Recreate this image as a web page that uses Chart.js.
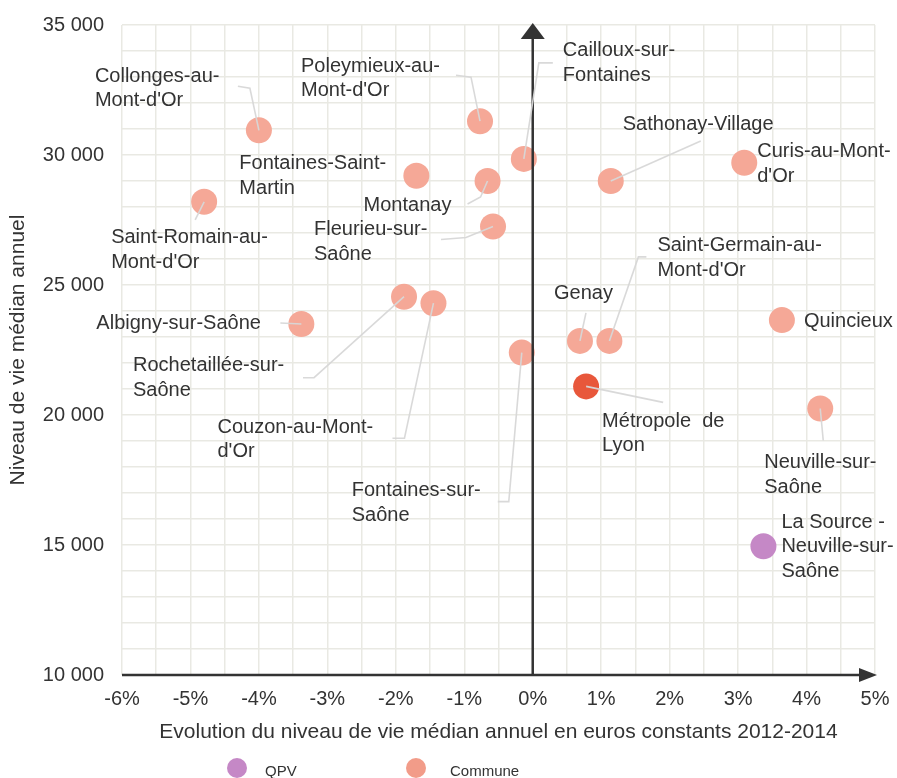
<!DOCTYPE html>
<html><head><meta charset="utf-8">
<script src="https://cdn.jsdelivr.net/npm/chart.js@4/dist/chart.umd.min.js"></script>
<style>html,body{margin:0;padding:0;background:#fff}</style>
</head><body>
<canvas id="c" width="897" height="778"></canvas>
<script>
// ---- Data ----
const communes = [
  "Collonges-au-Mont-d'Or", "Saint-Romain-au-Mont-d'Or", "Fontaines-Saint-Martin",
  "Poleymieux-au-Mont-d'Or", "Cailloux-sur-Fontaines", "Montanay", "Fleurieu-sur-Saône",
  "Sathonay-Village", "Curis-au-Mont-d'Or", "Albigny-sur-Saône", "Rochetaillée-sur-Saône",
  "Couzon-au-Mont-d'Or", "Fontaines-sur-Saône", "Genay", "Saint-Germain-au-Mont-d'Or",
  "Quincieux", "Neuville-sur-Saône"
];
const communeEvolution = [-4.0, -4.8, -1.7, -0.77, -0.13, -0.66, -0.58, 1.14, 3.09, -3.38, -1.88, -1.45, -0.16, 0.69, 1.12, 3.64, 4.2];
const communeNiveau = [30950, 28200, 29200, 31300, 29850, 29000, 27250, 29000, 29700, 23500, 24550, 24300, 22400, 22850, 22850, 23650, 20250];

const metropole = ["Métropole de Lyon"];
const metropoleEvolution = [0.78];
const metropoleNiveau = [21100];

const qpv = ["La Source - Neuville-sur-Saône"];
const qpvEvolution = [3.37];
const qpvNiveau = [14950];

const xTickValues = [-6, -5, -4, -3, -2, -1, 0, 1, 2, 3, 4, 5];
const xTickLabels = ["-6%", "-5%", "-4%", "-3%", "-2%", "-1%", "0%", "1%", "2%", "3%", "4%", "5%"];
const yTickValues = [10000, 15000, 20000, 25000, 30000, 35000];
const yTickLabels = ["10 000", "15 000", "20 000", "25 000", "30 000", "35 000"];

const legendNames = ["QPV", "Commune"];

// ---- Label layout (pixel offsets from each point) ----
const labelLayout = {
  "Collonges-au-Mont-d'Or": {lines: ["Collonges-au-", "Mont-d'Or"], dx: -164, dy: -54, leader: [[-21, -44], [-9, -42]]},
  "Saint-Romain-au-Mont-d'Or": {lines: ["Saint-Romain-au-", "Mont-d'Or"], dx: -93, dy: 36, leader: [[-9, 18]]},
  "Fontaines-Saint-Martin": {lines: ["Fontaines-Saint-", "Martin"], dx: -177, dy: -12, leader: null},
  "Poleymieux-au-Mont-d'Or": {lines: ["Poleymieux-au-", "Mont-d'Or"], dx: -179, dy: -55, leader: [[-24, -46], [-9, -44]]},
  "Cailloux-sur-Fontaines": {lines: ["Cailloux-sur-", "Fontaines"], dx: 39, dy: -108, leader: [[29, -96], [15, -96]]},
  "Montanay": {lines: ["Montanay"], dx: -124, dy: 24, leader: [[-20, 23], [-7, 16]]},
  "Fleurieu-sur-Saône": {lines: ["Fleurieu-sur-", "Saône"], dx: -179, dy: 3, leader: [[-52, 13], [-27, 11]]},
  "Sathonay-Village": {lines: ["Sathonay-Village"], dx: 12, dy: -57, leader: [[90, -40]]},
  "Curis-au-Mont-d'Or": {lines: ["Curis-au-Mont-", "d'Or"], dx: 13, dy: -11, leader: null},
  "Albigny-sur-Saône": {lines: ["Albigny-sur-Saône"], dx: -205, dy: -1, leader: [[-21, -1]]},
  "Rochetaillée-sur-Saône": {lines: ["Rochetaillée-sur-", "Saône"], dx: -271, dy: 69, leader: [[-101, 81], [-90, 81]]},
  "Couzon-au-Mont-d'Or": {lines: ["Couzon-au-Mont-", "d'Or"], dx: -216, dy: 124, leader: [[-41, 135], [-29, 135]]},
  "Fontaines-sur-Saône": {lines: ["Fontaines-sur-", "Saône"], dx: -170, dy: 138, leader: [[-24, 149], [-13, 149]]},
  "Genay": {lines: ["Genay"], dx: -26, dy: -47, leader: [[6, -28]]},
  "Saint-Germain-au-Mont-d'Or": {lines: ["Saint-Germain-au-", "Mont-d'Or"], dx: 48, dy: -95, leader: [[37, -84], [29, -84]]},
  "Quincieux": {lines: ["Quincieux"], dx: 22, dy: 1, leader: null},
  "Neuville-sur-Saône": {lines: ["Neuville-sur-", "Saône"], dx: -56, dy: 54, leader: [[3, 32]]},
  "Métropole de Lyon": {lines: ["Métropole  de", "Lyon"], dx: 16, dy: 35, leader: [[77, 16]]},
  "La Source - Neuville-sur-Saône": {lines: ["La Source -", "Neuville-sur-", "Saône"], dx: 18, dy: -24, leader: null}
};

const FONT = "'Liberation Sans', Arial, sans-serif";
const TEXT = '#333333';
const COL_COMMUNE = '#f5a897';
const COL_COMMUNE_LEG = '#f29c89';
const COL_METRO = '#e8573b';
const COL_QPV = '#c588c6';

const toPts = (xs, ys) => xs.map((x, i) => ({x: x, y: ys[i]}));

const annotate = {
  id: 'annotate',
  afterDatasetsDraw(chart) {
    const ctx = chart.ctx, xs = chart.scales.x, ys = chart.scales.y, ca = chart.chartArea;
    // axes
    ctx.save();
    ctx.strokeStyle = '#333'; ctx.fillStyle = '#333'; ctx.lineWidth = 2.5;
    const x0 = xs.getPixelForValue(0), yb = ys.getPixelForValue(10000);
    ctx.beginPath(); ctx.moveTo(ca.left, yb); ctx.lineTo(ca.right - 14, yb); ctx.stroke();
    ctx.beginPath(); ctx.moveTo(ca.right + 2, yb); ctx.lineTo(ca.right - 16, yb - 7); ctx.lineTo(ca.right - 16, yb + 7); ctx.closePath(); ctx.fill();
    ctx.beginPath(); ctx.moveTo(x0, yb); ctx.lineTo(x0, ca.top + 12); ctx.stroke();
    ctx.beginPath(); ctx.moveTo(x0, ca.top - 2); ctx.lineTo(x0 - 12, ca.top + 14); ctx.lineTo(x0 + 12, ca.top + 14); ctx.closePath(); ctx.fill();
    ctx.restore();

    // labels and leaders
    const all = [
      ...communes.map((n, i) => [n, communeEvolution[i], communeNiveau[i]]),
      ...metropole.map((n, i) => [n, metropoleEvolution[i], metropoleNiveau[i]]),
      ...qpv.map((n, i) => [n, qpvEvolution[i], qpvNiveau[i]])
    ];
    ctx.save();
    ctx.font = '20px ' + FONT;
    ctx.fillStyle = TEXT;
    ctx.textAlign = 'left';
    ctx.textBaseline = 'middle';
    all.forEach(([name, x, y]) => {
      const L = labelLayout[name];
      if (!L) return;
      const px = xs.getPixelForValue(x), py = ys.getPixelForValue(y);
      if (L.leader) {
        ctx.strokeStyle = 'rgba(215,215,215,0.95)';
        ctx.lineWidth = 1.6;
        ctx.beginPath();
        ctx.moveTo(px + L.leader[0][0], py + L.leader[0][1]);
        for (let k = 1; k < L.leader.length; k++) ctx.lineTo(px + L.leader[k][0], py + L.leader[k][1]);
        ctx.lineTo(px, py);
        ctx.stroke();
      }
      L.lines.forEach((t, k) => ctx.fillText(t, px + L.dx, py + L.dy + k * 24.5));
    });
    ctx.restore();
  },
  afterDraw(chart) {
    const ctx = chart.ctx;
    ctx.save();
    const items = [[legendNames[0], COL_QPV, 237, 265], [legendNames[1], COL_COMMUNE_LEG, 416, 450]];
    ctx.font = '15px ' + FONT;
    ctx.textBaseline = 'middle';
    ctx.textAlign = 'left';
    items.forEach(([t, c, cx, tx]) => {
      ctx.fillStyle = c;
      ctx.beginPath(); ctx.arc(cx, 768, 10, 0, Math.PI * 2); ctx.fill();
      ctx.fillStyle = TEXT;
      ctx.fillText(t, tx, 772);
    });
    ctx.restore();
  }
};

new Chart(document.getElementById('c'), {
  type: 'scatter',
  data: {
    datasets: [
      {label: 'Métropole', data: toPts(metropoleEvolution, metropoleNiveau), backgroundColor: COL_METRO, borderWidth: 0, pointRadius: 13, pointHoverRadius: 13},
      {label: 'QPV', data: toPts(qpvEvolution, qpvNiveau), backgroundColor: COL_QPV, borderWidth: 0, pointRadius: 13, pointHoverRadius: 13},
      {label: 'Commune', data: toPts(communeEvolution, communeNiveau), backgroundColor: COL_COMMUNE, borderWidth: 0, pointRadius: 13, pointHoverRadius: 13}
    ]
  },
  options: {
    responsive: false,
    animation: false,
    devicePixelRatio: 1,
    layout: {padding: {top: 25, right: 22, bottom: 33, left: 0}},
    plugins: {legend: {display: false}, tooltip: {enabled: false}},
    scales: {
      x: {
        type: 'linear', min: -6, max: 5,
        afterFit: s => { s.height = 70; s.paddingLeft = 0; s.paddingRight = 0; },
        grid: {color: '#e9e9e3', lineWidth: 1.5, drawTicks: false},
        border: {display: false},
        ticks: {
          stepSize: 0.5, autoSkip: false, maxRotation: 0, padding: 12,
          color: TEXT, font: {family: FONT, size: 20},
          callback: v => { const i = xTickValues.indexOf(v); return i >= 0 ? xTickLabels[i] : ''; }
        },
        title: {display: true, text: 'Evolution du niveau de vie médian annuel en euros constants 2012-2014', color: TEXT, font: {family: FONT, size: 21}, padding: {top: 4, bottom: 0}}
      },
      y: {
        min: 10000, max: 35000,
        afterFit: s => { s.width = 122; s.paddingTop = 0; s.paddingBottom = 0; },
        grid: {color: '#e9e9e3', lineWidth: 1.5, drawTicks: false},
        border: {display: false},
        ticks: {
          stepSize: 1000, autoSkip: false, padding: 18,
          color: TEXT, font: {family: FONT, size: 20},
          callback: v => { const i = yTickValues.indexOf(v); return i >= 0 ? yTickLabels[i] : ''; }
        },
        title: {display: true, text: 'Niveau de vie médian annuel', color: TEXT, font: {family: FONT, size: 21}, padding: {top: 6, bottom: 4}}
      }
    }
  },
  plugins: [annotate]
});
</script>
</body></html>
